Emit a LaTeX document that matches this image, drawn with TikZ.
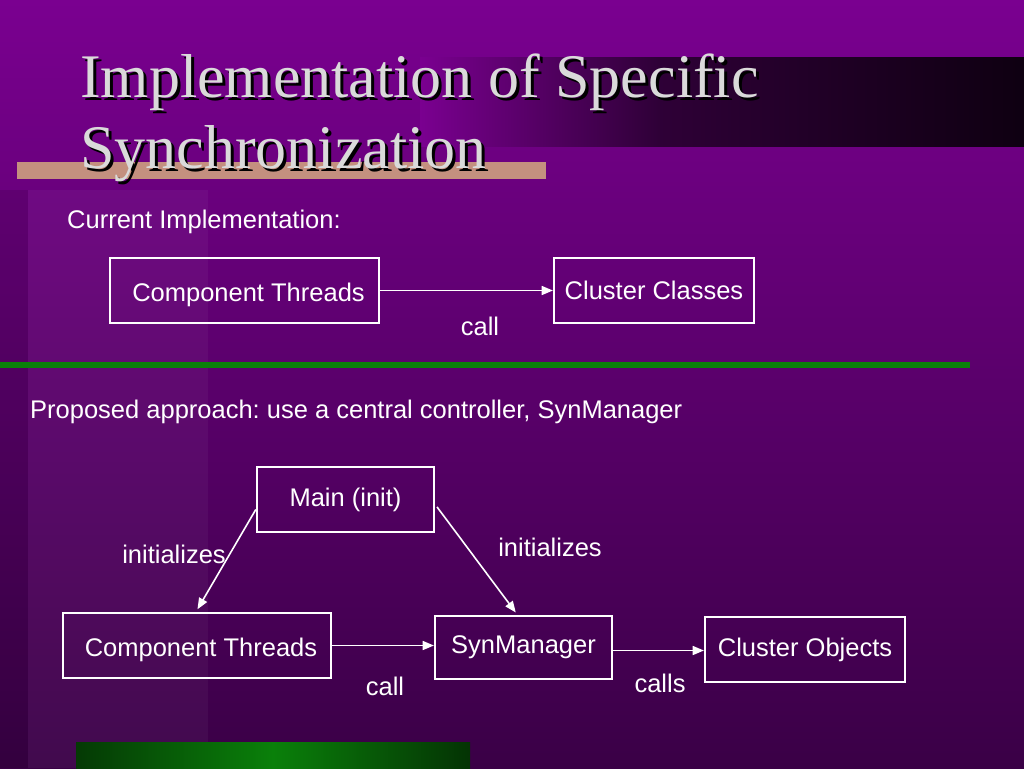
\documentclass[tikz,border=0pt]{standalone}
\usepackage{fontspec}
\setmainfont{Liberation Serif}
\setsansfont{Liberation Sans}
\usepackage{xcolor}
\definecolor{slide-top}{HTML}{7A0090}
\definecolor{slide-bot}{HTML}{3A0046}
\definecolor{slide-gron}{HTML}{0A800A}
\definecolor{slide-rosa}{HTML}{C4907F}
\definecolor{titel-graa}{HTML}{DADADA}
\usepackage{tikz}
\usetikzlibrary{positioning}
\usetikzlibrary{shapes,arrows,shadows,fadings}
\frenchspacing

\begin{document}
\begin{tikzpicture}[x=1pt,y=-1pt,>=triangle 45,
  boks/.style={draw=white,line width=2.4pt,text=white,inner sep=0pt,font=\fontsize{25.5}{29}\selectfont},
  tekst/.style={text=white,inner sep=0pt,font=\fontsize{25.5}{29}\selectfont},
  titel/.style={anchor=base west,inner sep=0pt,font=\rmfamily\fontsize{62}{71}\selectfont},
  pil/.style={->,draw=white,line width=1.6pt}] \sffamily

\useasboundingbox (0,0) rectangle (1024,768);

% baggrund
\shade[top color=slide-top,bottom color=slide-bot] (0,0) rectangle (1024,768);
\fill[black,opacity=0.10] (0,190) rectangle (28,768);
\fill[white,opacity=0.04] (28,190) rectangle (208,768);

% titel
\shade[left color=slide-top,right color=black!62!slide-top] (420,58) rectangle (660,146);
\shade[left color=black!62!slide-top,right color=black!88!slide-top] (660,58) rectangle (1024,146);
\fill[slide-rosa] (17,162) rectangle (546,179);
\node[titel,text=black] at (83,100) {Implementation of Specific};
\node[titel,text=black] at (83,171) {Synchronization};
\node[titel,text=titel-graa] (titel1) at (80,97) {Implementation of Specific};
\node[titel,text=titel-graa] (titel2) at (80,168) {Synchronization};

% nuvaerende
\node[tekst,anchor=west] (nu) at (67,222) {Current Implementation:};

\node[boks,minimum width=269pt,minimum height=65pt] (traade1) at (244.5,290.5) {\hspace{8pt}\raisebox{-4pt}[\height][\depth]{Component Threads}};
\node[boks,minimum width=200pt,minimum height=65pt] (klasser) at (654,290.5) {Cluster Classes};
\node[tekst] (kald1) at (480,326) {call};

\draw[pil] (traade1) to (klasser);

\fill[slide-gron] (0,362) rectangle (970,368);

% forslag
\node[tekst,anchor=west] (forslag) at (30,412) {Proposed approach: use a central controller, SynManager};

\node[boks,minimum width=177pt,minimum height=65pt] (main) at (345.5,499.5) {Main (init)};
\node[boks,minimum width=268pt,minimum height=65pt] (traade2) at (197,645.5) {\hspace{8pt}\raisebox{-4pt}[\height][\depth]{Component Threads}};
\node[boks,minimum width=177pt,minimum height=63pt] (syn) at (523.5,647.5) {SynManager};
\node[boks,minimum width=200pt,minimum height=65pt] (objekter) at (805,649.5) {Cluster Objects};

\node[tekst] (init1) at (174,554) {initializes};
\node[tekst] (init2) at (550,547) {initializes};
\node[tekst] (kald2) at (385,686) {call};
\node[tekst] (kald3) at (660,683) {calls};

\draw[pil,shorten >=3pt] ([yshift=-10pt]main.west) to ([xshift=-1pt]traade2.north);
\draw[pil,shorten <=3pt,shorten >=3pt] ([yshift=-5pt]main.east) to ([xshift=-6pt]syn.north);
\draw[pil] (traade2.east) to (traade2.east -| syn.west);
\draw[pil] ([yshift=-3pt]syn.east) to ([yshift=-3pt]syn.east -| objekter.west);

\shade[left color=black!55!slide-gron,right color=black!60!slide-gron,middle color=slide-gron] (76,742) rectangle (470,768);

\end{tikzpicture}
\end{document}
